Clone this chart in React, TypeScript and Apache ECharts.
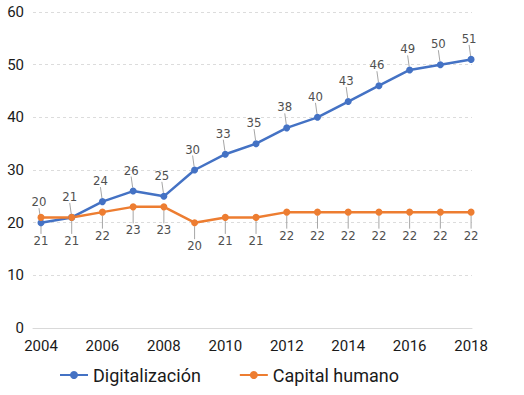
import React, { useEffect, useRef } from "react";
import * as echarts from "echarts";

const years = [2004, 2005, 2006, 2007, 2008, 2009, 2010, 2011, 2012, 2013, 2014, 2015, 2016, 2017, 2018];
const digitalizacion = [20, 21, 24, 26, 25, 30, 33, 35, 38, 40, 43, 46, 49, 50, 51];
const capitalHumano = [21, 21, 22, 23, 23, 20, 21, 21, 22, 22, 22, 22, 22, 22, 22];
const xTickLabels = [2004, 2006, 2008, 2010, 2012, 2014, 2016, 2018];
const seriesNames = ["Digitalización", "Capital humano"];

export default function App() {
  const ref = useRef<HTMLDivElement>(null);
  useEffect(() => {
    const chart = echarts.init(ref.current!, null, { renderer: "svg" });
    const labelFont = {
      fontFamily: "Liberation Sans Narrow, DejaVu Sans Condensed, sans-serif",
      fontSize: 13,
      color: "#505050",
    };
    chart.setOption({
      animation: false,
      backgroundColor: "#ffffff",
      grid: { left: 33, right: 52, top: 12, bottom: 67 },
      xAxis: {
        type: "value",
        min: 2003.74,
        max: 2018.03,
        axisLine: { show: true, lineStyle: { color: "#d9d9d9", width: 1 } },
        axisTick: { show: false },
        splitLine: { show: false },
        axisLabel: {
          customValues: xTickLabels,
          margin: 10,
          fontFamily: "Roboto",
          fontSize: 15,
          color: "#1a1a1a",
          formatter: (v: number) => String(v),
        },
      },
      yAxis: {
        type: "value",
        min: 0,
        max: 60,
        interval: 10,
        axisLine: { show: false },
        axisTick: { show: false },
        splitLine: { lineStyle: { color: "#dcdcdc", type: [3, 3], width: 1 } },
        axisLabel: { margin: 9, fontFamily: "Roboto", fontSize: 15, color: "#1a1a1a" },
      },
      legend: {
        bottom: 6,
        left: 54,
        itemWidth: 28,
        itemHeight: 10,
        itemGap: 38,
        textStyle: { fontFamily: "Roboto", fontSize: 18, color: "#1a1a1a" },
        data: seriesNames,
      },
      series: [
        {
          name: seriesNames[0],
          type: "line",
          data: years.map((y, i) => [y, digitalizacion[i]]),
          symbol: "circle",
          symbolSize: 7,
          lineStyle: { color: "#4472C4", width: 2.5 },
          itemStyle: { color: "#4472C4" },
          label: { show: true, position: "top", distance: 4, ...labelFont },
          labelLayout: { dy: -7, dx: -2 },
          labelLine: { show: true, lineStyle: { color: "#a6a6a6", width: 1 } },
        },
        {
          name: seriesNames[1],
          type: "line",
          data: years.map((y, i) => [y, capitalHumano[i]]),
          symbol: "circle",
          symbolSize: 7,
          lineStyle: { color: "#ED7D31", width: 2.5 },
          itemStyle: { color: "#ED7D31" },
          label: { show: true, position: "bottom", distance: 4, ...labelFont },
          labelLayout: { dy: 9, dx: 0 },
          labelLine: { show: true, lineStyle: { color: "#a6a6a6", width: 1 } },
        },
      ],
    });
    return () => chart.dispose();
  }, []);
  return (
    <div
      ref={ref}
      style={{ position: "absolute", left: 0, top: 0, width: 524, height: 395 }}
    />
  );
}
